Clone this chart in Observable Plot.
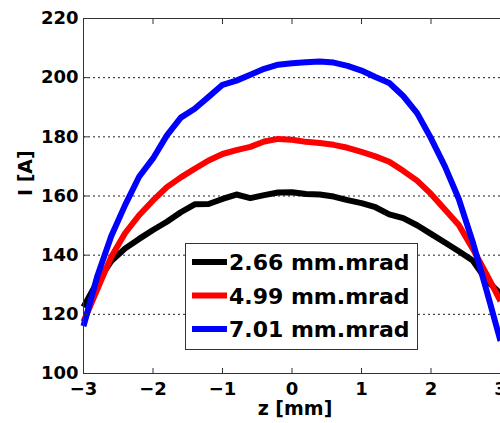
<!DOCTYPE html>
<html><head><meta charset="utf-8">
<script src="https://cdn.jsdelivr.net/npm/d3@7"></script>
<script src="https://cdn.jsdelivr.net/npm/@observablehq/plot@0.6"></script>
<style>
html,body{margin:0;padding:0;background:#fff;}
#chart{position:relative;width:500px;height:423px;overflow:hidden;}
</style></head><body><div id="chart"></div>
<script>
const z = [-3,-2.8,-2.6,-2.4,-2.2,-2,-1.8,-1.6,-1.4,-1.2,-1,-0.8,-0.6,-0.4,-0.2,0,0.2,0.4,0.6,0.8,1,1.2,1.4,1.6,1.8,2,2.2,2.4,2.6,2.8,3];
const black = [122.5,131,138,142.3,145.5,148.5,151.3,154.5,157.2,157.3,159,160.5,159.3,160.3,161.2,161.3,160.7,160.5,159.8,158.6,157.6,156.2,153.8,152.5,150.1,147.2,144.3,141.3,138.2,131.5,127];
const red = [117.5,128.5,139.5,147.5,153.5,158.5,163,166.3,169.2,172,174.2,175.5,176.6,178.4,179.3,179,178.3,177.9,177.3,176.3,174.9,173.4,171.6,168.5,165.2,160.7,155.4,150.2,142.2,133.5,124.5];
const blue = [116,133,146.5,157,166.5,172.7,180.5,186.5,189.5,193.5,197.6,199,201,203,204.4,204.9,205.2,205.5,205.1,204,202.4,200.2,198.2,193.8,188,179.5,170,159,144.5,128,111];
const seriesNames = ["2.66 mm.mrad", "4.99 mm.mrad", "7.01 mm.mrad"];
const seriesColors = ["#000000", "#ff0000", "#0000ff"];
const seriesValues = [black, red, blue];
const xTicks = [-3, -2, -1, 0, 1, 2, 3];
const yTicks = [100, 120, 140, 160, 180, 200, 220];
const yGrid = [120, 140, 160, 180, 200];
const xLabel = "z [mm]";
const yLabel = "I [A]";

const data = seriesValues.flatMap((vals, i) => vals.map((v, j) => ({z: z[j], I: v, s: seriesNames[i]})));
const font = "'DejaVu Sans', sans-serif";
const fmt = d3.format("d");

const chart = Plot.plot({
  width: 500, height: 423,
  marginLeft: 83, marginRight: 0, marginTop: 18, marginBottom: 50,
  style: {fontFamily: font, fontWeight: "bold", fontSize: "18px", background: "#fff", color: "#000"},
  x: {domain: [-3, 3]},
  y: {domain: [100, 220]},
  color: {domain: seriesNames, range: seriesColors},
  marks: [
    Plot.ruleY(yGrid, {stroke: "#222", strokeDasharray: "2,3", strokeWidth: 1}),
    Plot.line(data, {x: "z", y: "I", z: "s", stroke: "s", strokeWidth: 6, strokeLinejoin: "round", strokeLinecap: "butt"}),
    Plot.ruleX([-3], {stroke: "#333"}),
    Plot.ruleY([100, 220], {stroke: "#333"}),
    Plot.axisX(xTicks, {anchor: "bottom", tickSize: 0, tickPadding: 9, tickFormat: fmt, label: null, fill: "#000"}),
    Plot.axisX(xTicks.slice(1, -1), {anchor: "bottom", tickSize: -5, tickFormat: () => "", label: null, stroke: "#333"}),
    Plot.axisX(xTicks.slice(1, -1), {anchor: "top", tickSize: -5, tickFormat: () => "", label: null, stroke: "#333"}),
    Plot.axisY(yTicks, {anchor: "left", tickSize: 0, tickPadding: 5, tickFormat: fmt, label: null, fill: "#000"}),
    Plot.axisY(yTicks.slice(1, -1), {anchor: "left", tickSize: -5, tickFormat: () => "", label: null, stroke: "#333"}),
    Plot.text([xLabel], {frameAnchor: "bottom", dy: 41, dx: 3, fontSize: 19, fontWeight: "bold", fill: "#000"}),
    Plot.text([yLabel], {frameAnchor: "left", dx: -58, rotate: -90, fontSize: 19, fontWeight: "bold", fill: "#000"})
  ]
});

const svg = d3.select(chart);
const g = svg.append("g").attr("font-family", font).attr("font-weight", "bold").attr("font-size", 22).attr("text-anchor", "start");
g.append("rect").attr("x", 185.5).attr("y", 243.5).attr("width", 232).attr("height", 106)
  .attr("fill", "#fff").attr("stroke", "#333");
seriesNames.forEach((name, i) => {
  const cy = 262 + i * 33.5;
  g.append("line").attr("x1", 192).attr("x2", 227).attr("y1", cy).attr("y2", cy)
    .attr("stroke", seriesColors[i]).attr("stroke-width", 6);
  g.append("text").attr("x", 229).attr("y", cy).attr("dy", 8).attr("text-anchor", "start").attr("fill", "#000").text(name);
});

document.getElementById("chart").appendChild(chart);
</script>
</body></html>
